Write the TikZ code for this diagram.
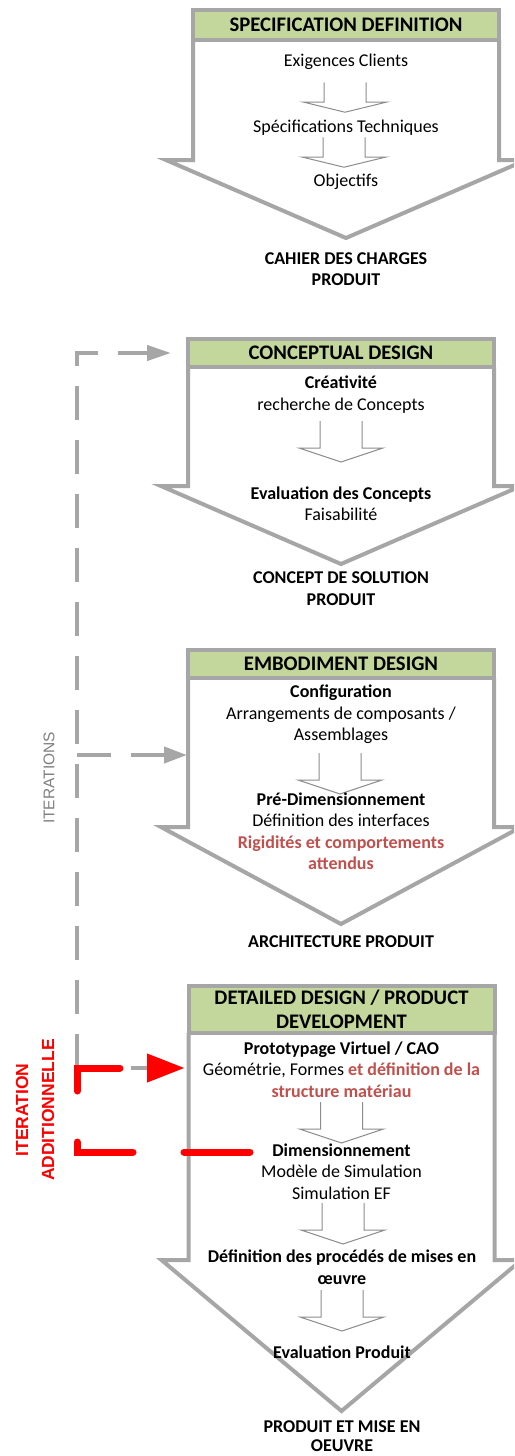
\documentclass[tikz,border=0pt]{standalone}
\usepackage{fontspec}
\setmainfont{Carlito}
\newfontfamily\labelfont{Liberation Sans}
\usepackage{tikz}
\usetikzlibrary{calc,positioning,arrows.meta}

\definecolor{framegray}{HTML}{A6A6A6}
\definecolor{headgreen}{HTML}{C3D69B}
\definecolor{accentred}{HTML}{C0504D}
\definecolor{labelgray}{HTML}{7F7F7F}

\tikzset{
  stagehead/.style={draw=framegray, line width=4pt, fill=headgreen, minimum width=306pt, inner sep=0pt,
    align=center, font=\fontsize{20.7}{24}\selectfont\bfseries},
  stagebody/.style={draw=framegray, line width=4pt, fill=white, line join=miter},
  itemtext/.style={align=center, inner sep=0pt, font=\fontsize{18}{21.5}\selectfont},
  outtext/.style={align=center, inner sep=0pt, font=\fontsize{18}{21.5}\selectfont\bfseries},
  smallarrow/.style={draw=framegray!85!black, line width=1pt},
  iterline/.style={draw=framegray, line width=4pt, dash pattern=on 34pt off 20pt},
  iterred/.style={draw=red, line width=7pt, line cap=round, dash pattern=on 66pt off 51pt},
  pics/flowdown/.style={code={
    \draw[smallarrow] (-21,27) -- (-21,0) -- (-42,0) -- (0,-14) -- (42,0) -- (21,0) -- (21,27);
  }}
}

\begin{document}
\begin{tikzpicture}[x=1pt,y=1pt]
    \useasboundingbox (0,0) rectangle (514,-1456);
    \clip (0,0) rectangle (514,-1456);
    \pgfmathsetmacro{\bw}{153};
    \pgfmathsetmacro{\sw}{180};

    % big arrows: centre / header bottom / shoulder / tip
    \foreach \cx/\hb/\sh/\tp in {346/40/160/238, 341/367/486/564, 341/678/827/924, 341.5/1033/1260/1411}{
        \draw[stagebody] (\cx-\bw,-\hb) -- (\cx-\bw,-\sh) -- (\cx-\sw,-\sh) -- (\cx,-\tp)
            -- (\cx+\sw,-\sh) -- (\cx+\bw,-\sh) -- (\cx+\bw,-\hb);
    }

    \node[stagehead, minimum height=30pt] (spec) at (346,-25) {SPECIFICATION DEFINITION};
    \node[stagehead, minimum height=28pt] (concept) at (341,-353) {CONCEPTUAL DESIGN};
    \node[stagehead, minimum height=28pt] (embod) at (341,-664) {EMBODIMENT DESIGN};
    \node[stagehead, minimum height=47pt] (detail) at (341.5,-1009.5) {DETAILED DESIGN / PRODUCT\\DEVELOPMENT};

    % specification
    \node[itemtext] (clients) at (346,-62) {Exigences Clients};
    \pic[yscale=0.73] at (345,-102) {flowdown};
    \node[itemtext] (techspec) at (346,-128) {Spécifications Techniques};
    \pic[yscale=0.73] at (344,-157) {flowdown};
    \node[itemtext] (goals) at (346,-182) {Objectifs};
    \node[outtext] (cdc) at (346,-269) {CAHIER DES CHARGES\\PRODUIT};

    % conceptual
    \node[itemtext] (creat) at (341,-394.5) {\textbf{Créativité}\\recherche de Concepts};
    \pic at (341,-448) {flowdown};
    \node[itemtext] (evalc) at (341,-503.5) {\textbf{Evaluation des Concepts}\\Faisabilité};
    \node[outtext] (csol) at (341,-588.5) {CONCEPT DE SOLUTION\\PRODUIT};

    % embodiment
    \node[itemtext] (config) at (341,-714.5) {\textbf{Configuration}\\Arrangements de composants /\\Assemblages};
    \pic at (340,-780) {flowdown};
    \node[itemtext] (predim) at (341,-831) {\textbf{Pré-Dimensionnement}\\Définition des interfaces\\
        \textcolor{accentred}{\textbf{Rigidités et comportements}}\\\textcolor{accentred}{\textbf{attendus}}};
    \node[outtext] (archi) at (341,-942) {ARCHITECTURE PRODUIT};

    % detailed design
    \node[itemtext] (proto) at (341.5,-1069.5) {\textbf{Prototypage Virtuel / CAO}\\
        Géométrie, Formes \textcolor{accentred}{\textbf{et définition de la}}\\\textcolor{accentred}{\textbf{structure matériau}}};
    \pic at (341.5,-1129) {flowdown};
    \node[itemtext] (dimens) at (341.5,-1171.5) {\textbf{Dimensionnement}\\Modèle de Simulation\\Simulation EF};
    \pic at (343,-1230) {flowdown};
    \node[outtext] (process) at (342,-1267) {Définition des procédés de mises en\\œuvre};
    \pic at (342,-1317) {flowdown};
    \node[outtext] (evalp) at (342,-1352) {Evaluation Produit};
    \node[outtext, font=\fontsize{18}{19.5}\selectfont\bfseries] (prod) at (342,-1436) {PRODUIT ET MISE EN\\OEUVRE};

    % iterations
    \coordinate (itop) at (77,-353);
    \coordinate (imid) at (77,-755);
    \coordinate (ilow) at (77,-1068);
    \coordinate (b3in) at (187,-755);
    \coordinate (b4in) at (185,-1068);
    \coordinate (rfrom) at (250,-1152);
    \draw[iterline] (ilow) -- (b4in);
    \draw[iterline, -{Triangle[length=24pt,width=15pt]}, shorten >=15pt] (ilow) -- (itop) -- (concept.west);
    \draw[iterline, -{Triangle[length=23pt,width=16pt]}] (imid) -- (b3in);
    \draw[iterred, -{Triangle[length=38pt,width=27pt]}] (rfrom) -| (ilow) -- (b4in);

    \node[rotate=90, text=labelgray, font=\labelfont\fontsize{15.5}{17}\selectfont] (iterlbl) at (49,-778) {ITERATIONS};
    \node[rotate=90, text=red, align=center, font=\labelfont\bfseries\fontsize{17.5}{26}\selectfont] (addlbl) at (35,-1110) {ITERATION\\ADDITIONNELLE};
\end{tikzpicture}
\end{document}
